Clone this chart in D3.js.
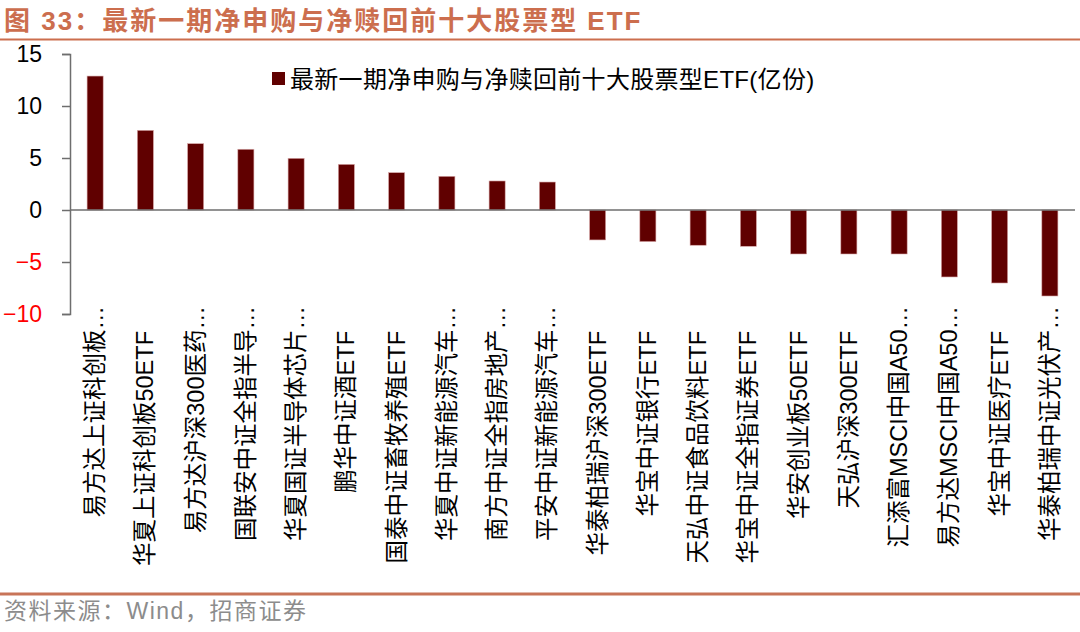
<!DOCTYPE html>
<html>
<head>
<meta charset="utf-8">
<script src="https://cdn.jsdelivr.net/npm/d3@7"></script>
<style>
  body { margin: 0; background: #fff; }
  svg { display: block; }
  text { font-family: "Liberation Sans", Arial, "Noto Sans CJK SC", sans-serif; }
</style>
</head>
<body>
<div id="chart"></div>
<script>
// 数据
const funds = [
    "易方达上证科创板…", "华夏上证科创板50ETF", "易方达沪深300医药…", "国联安中证全指半导…",
    "华夏国证半导体芯片…", "鹏华中证酒ETF", "国泰中证畜牧养殖ETF", "华夏中证新能源汽车…",
    "南方中证全指房地产…", "平安中证新能源汽车…", "华泰柏瑞沪深300ETF", "华宝中证银行ETF",
    "天弘中证食品饮料ETF", "华宝中证全指证券ETF", "华安创业板50ETF", "天弘沪深300ETF",
    "汇添富MSCI中国A50…", "易方达MSCI中国A50…", "华宝中证医疗ETF", "华泰柏瑞中证光伏产…"
];
const netFlow = [12.88, 7.66, 6.38, 5.84, 4.97, 4.39, 3.59, 3.24, 2.79, 2.69,
    -2.88, -3.04, -3.39, -3.49, -4.23, -4.23, -4.23, -6.44, -7.02, -8.27];
const yTicks = [15, 10, 5, 0, -5, -10];
const seriesName = "最新一期净申购与净赎回前十大股票型ETF(亿份)";
const title = "图 33：最新一期净申购与净赎回前十大股票型 ETF";
const source = "资料来源：Wind，招商证券";

const width = 1080, height = 632;
const svg = d3.select("#chart").append("svg")
    .attr("width", width)
    .attr("height", height);

// 标题
svg.append("text")
    .attr("x", 4)
    .attr("y", 30)
    .attr("font-size", "26px")
    .attr("font-weight", "bold")
    .attr("letter-spacing", "2px")
    .attr("fill", "#cc6e4e")
    .text(title);

svg.append("line")
    .attr("x1", 0).attr("x2", width)
    .attr("y1", 39.5).attr("y2", 39.5)
    .attr("stroke", "#cc6e4e")
    .attr("stroke-width", 2);

// 比例尺
const x = d3.scaleBand()
    .domain(funds)
    .range([70, 1075])
    .paddingInner(0.68)
    .paddingOuter(0.34);

const y = d3.scaleLinear()
    .domain([-10, 15])
    .range([314, 54]);

// 柱子
svg.append("g")
    .selectAll("rect")
    .data(netFlow)
    .enter().append("rect")
    .attr("x", (d, i) => x(funds[i]))
    .attr("width", x.bandwidth())
    .attr("y", d => y(Math.max(0, d)))
    .attr("height", d => Math.abs(y(d) - y(0)))
    .attr("fill", "#600000")
    .attr("stroke", "#d8a8a8")
    .attr("stroke-width", 0.6);

// 零线
svg.append("line")
    .attr("x1", 70).attr("x2", 1075)
    .attr("y1", y(0)).attr("y2", y(0))
    .attr("stroke", "#6e6e6e")
    .attr("stroke-width", 1.5);

// Y轴
const yAxis = svg.append("g")
    .attr("transform", "translate(70,0)")
    .call(d3.axisLeft(y).tickValues(yTicks).tickSize(8).tickPadding(20).tickFormat(d3.format("d")));

yAxis.select(".domain").attr("stroke", "#6e6e6e").attr("stroke-width", 1.5);
yAxis.selectAll(".tick line").attr("stroke", "#6e6e6e").attr("stroke-width", 1.5);
yAxis.selectAll(".tick text")
    .attr("font-size", "23px")
    .attr("font-family", "'Liberation Sans', Arial, sans-serif")
    .attr("fill", d => d < 0 ? "#ff0000" : "#000");

// 类别标签（竖排）
svg.append("g")
    .selectAll("text")
    .data(funds)
    .enter().append("text")
    .attr("transform", d => {
        const top = d.endsWith("…") ? 306 : 331;
        return `translate(${x(d) + x.bandwidth() / 2}, ${top}) rotate(-90)`;
    })
    .attr("text-anchor", "end")
    .attr("dominant-baseline", "central")
    .attr("font-size", "23.5px")
    .attr("fill", "#000")
    .text(d => d);

// 图例
svg.append("rect")
    .attr("x", 272).attr("y", 72)
    .attr("width", 13).attr("height", 13)
    .attr("fill", "#600000");

svg.append("text")
    .attr("x", 290)
    .attr("y", 79)
    .attr("dominant-baseline", "central")
    .attr("font-size", "24px")
    .attr("letter-spacing", "0.3px")
    .attr("fill", "#000")
    .text(seriesName);

// 底部
svg.append("line")
    .attr("x1", 0).attr("x2", width)
    .attr("y1", 594).attr("y2", 594)
    .attr("stroke", "#c87458")
    .attr("stroke-width", 3);

svg.append("text")
    .attr("x", 4)
    .attr("y", 619)
    .attr("font-size", "23px")
    .attr("letter-spacing", "1.5px")
    .attr("fill", "#8c8c8c")
    .text(source);
</script>
</body>
</html>
